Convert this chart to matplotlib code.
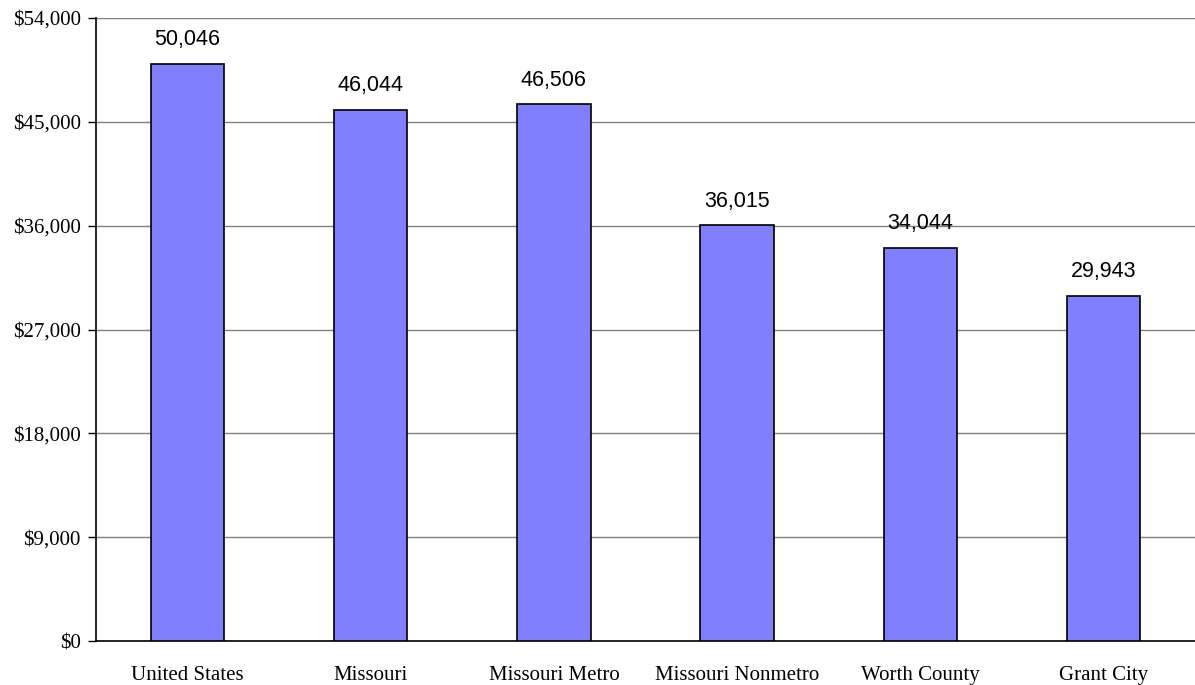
import matplotlib
matplotlib.use("Agg")
import matplotlib.pyplot as plt
from matplotlib.ticker import FuncFormatter, MultipleLocator

categories = ["United States", "Missouri", "Missouri Metro", "Missouri Nonmetro", "Worth County", "Grant City"]
values = [50046, 46044, 46506, 36015, 34044, 29943]

fig = plt.figure(figsize=(11.95, 6.85), dpi=100)
ax = fig.add_axes([96/1195, 44/685, 1 - 96/1195, (641-18)/685])

x = range(len(categories))
bars = ax.bar(x, values, width=0.40, color="#8080FF", edgecolor="black", linewidth=1.2, zorder=3)

ax.set_xlim(-0.5, len(categories) - 0.5)
ax.set_ylim(0, 54000)
ax.yaxis.set_major_locator(MultipleLocator(9000))
ax.yaxis.set_major_formatter(FuncFormatter(lambda v, p: f"${v:,.0f}"))
ax.grid(axis="y", color="#808080", linewidth=1.0, zorder=0)
ax.set_axisbelow(True)

for s in ["top", "right"]:
    ax.spines[s].set_visible(False)
ax.spines["left"].set_linewidth(1.2)
ax.spines["bottom"].set_linewidth(1.2)

ax.set_xticks(list(x))
ax.set_xticklabels(categories, fontfamily="Liberation Serif", fontsize=15)
ax.tick_params(axis="x", length=0, pad=18)
ax.tick_params(axis="y", length=6, width=1, direction="out", pad=5)
for lbl in ax.get_yticklabels():
    lbl.set_fontfamily("Liberation Serif")
    lbl.set_fontsize(15)

for xi, v in zip(x, values):
    ax.annotate(f"{v:,}", (xi, v), xytext=(0, 10), textcoords="offset points",
                ha="center", va="bottom", fontfamily="Liberation Sans", fontsize=15.5)

fig.savefig("out.png", dpi=100)
